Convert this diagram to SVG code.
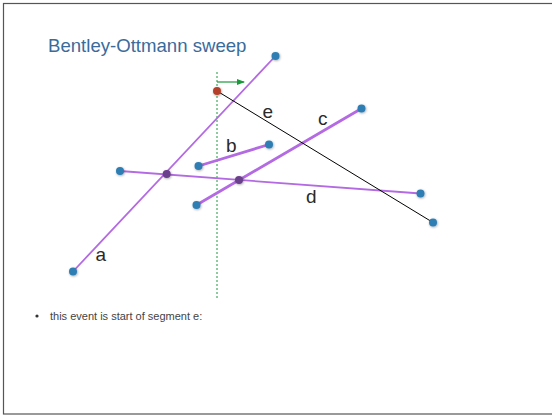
<svg xmlns="http://www.w3.org/2000/svg" width="552" height="416" viewBox="0 0 552 416">
<style>
.seg{stroke:#b36ae2;fill:none;stroke-linecap:round}
.thin{stroke-width:1.8}
.thick{stroke-width:2.8}
.ep{fill:#2e7db3}
.ix{fill:#6b3f8c}
.lbl{font-family:"Liberation Sans",Arial,sans-serif;font-size:19px;fill:#2a2a2a}
</style>
<defs>
<filter id="sh" x="-50%" y="-50%" width="200%" height="200%">
<feDropShadow dx="0.6" dy="0.8" stdDeviation="0.8" flood-color="#000" flood-opacity="0.35"/>
</filter>
<marker id="arr" markerWidth="8" markerHeight="6" refX="7" refY="3" orient="auto" markerUnits="userSpaceOnUse">
<path d="M0,0 L8,3 L0,6 Z" fill="#1a9a3a"/>
</marker>
</defs>
<rect x="3.5" y="3.5" width="560" height="410.5" fill="#fff" stroke="#555" stroke-width="1.2"/>
<text x="48" y="52" font-family="'Liberation Sans',Arial,sans-serif" font-size="18.6" fill="#3a6b9b">Bentley-Ottmann sweep</text>
<g id="connectors">
<line x1="217" y1="72" x2="217" y2="300" stroke="#1a9a3a" stroke-width="1" stroke-dasharray="2,2"/>
<line x1="217" y1="82" x2="244" y2="82" stroke="#1a9a3a" stroke-width="1.2" marker-end="url(#arr)"/>
<line id="seg-a" class="seg thin" x1="73" y1="271.5" x2="275.5" y2="56"/>
<line id="seg-d" class="seg thin" x1="120" y1="171" x2="420.5" y2="193.5"/>
<line id="seg-c" class="seg thick" x1="196.5" y1="205" x2="361.5" y2="108.5"/>
<line id="seg-b" class="seg thick" x1="198.5" y1="166" x2="269" y2="144.5"/>
<line id="seg-e" x1="217" y1="91" x2="433" y2="222.5" stroke="#000" stroke-width="1"/>
</g>
<g id="a-low" filter="url(#sh)"><circle class="ep" cx="73" cy="271.5" r="4"/></g>
<g id="a-high" filter="url(#sh)"><circle class="ep" cx="275.5" cy="56" r="4"/></g>
<g id="d-left" filter="url(#sh)"><circle class="ep" cx="120" cy="171" r="4"/></g>
<g id="d-right" filter="url(#sh)"><circle class="ep" cx="420.5" cy="193.5" r="4"/></g>
<g id="c-left" filter="url(#sh)"><circle class="ep" cx="196.5" cy="205" r="4"/></g>
<g id="c-right" filter="url(#sh)"><circle class="ep" cx="361.5" cy="108.5" r="4"/></g>
<g id="b-left" filter="url(#sh)"><circle class="ep" cx="198.5" cy="166" r="4"/></g>
<g id="b-right" filter="url(#sh)"><circle class="ep" cx="269" cy="144.5" r="4"/></g>
<g id="e-right" filter="url(#sh)"><circle class="ep" cx="433" cy="222.5" r="4"/></g>
<g id="ad-cross" filter="url(#sh)"><circle class="ix" cx="166.7" cy="174" r="4"/></g>
<g id="cd-cross" filter="url(#sh)"><circle class="ix" cx="239" cy="180" r="4"/></g>
<g id="event" filter="url(#sh)"><circle cx="217" cy="91" r="4" fill="#b5412c"/></g>
<text class="lbl" x="95.5" y="261">a</text>
<text class="lbl" x="226" y="152">b</text>
<text class="lbl" x="318" y="125">c</text>
<text class="lbl" x="306" y="202.5">d</text>
<text class="lbl" x="262.5" y="117.5">e</text>
<circle cx="37" cy="316" r="1.6" fill="#333"/>
<text x="50" y="319.5" font-family="'Liberation Sans',Arial,sans-serif" font-size="11" fill="#444">this event is start of segment e:</text>
</svg>
